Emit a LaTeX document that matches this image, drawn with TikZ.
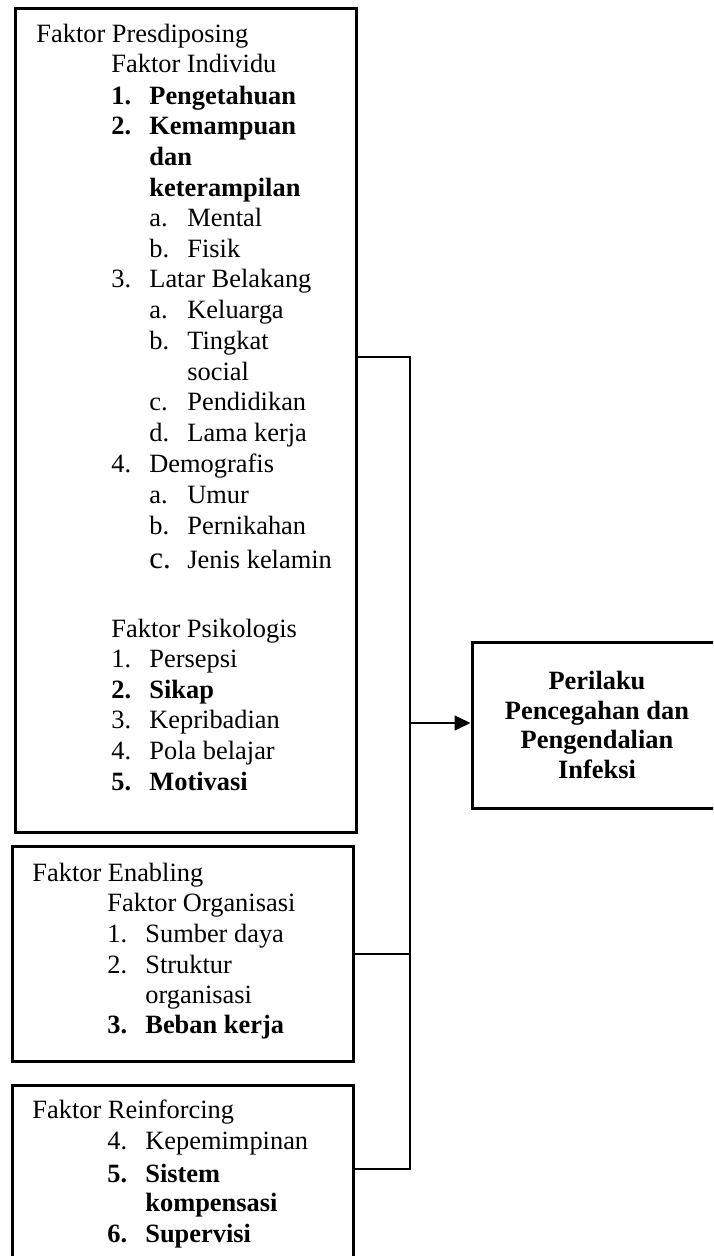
\documentclass[tikz,border=0pt]{standalone}
\usepackage{fontspec}
\setmainfont{Liberation Serif}
\usetikzlibrary{arrows.meta,positioning}
\newcommand{\nr}[1]{\makebox[19pt][l]{#1}}

\begin{document}
\begin{tikzpicture}[x=0.5pt,y=-0.5pt,>={Triangle[length=8pt,width=7.5pt]},
  kotak/.style={draw,line width=1.5pt,inner sep=0pt,anchor=north west},
  baris/.style={anchor=base west,inner sep=0pt,font=\fontsize{13.2}{15.3}\selectfont},
  garis/.style={line width=1.25pt}]
  \useasboundingbox (0,0) rectangle (713,1256);
  \clip (0,0) rectangle (713,1256);

  % Tiga kotak faktor di kiri dan kotak perilaku di kanan.
  \node[kotak,minimum width=170.5pt,minimum height=412pt] (presd) at (14,7) {};
  \node[kotak,minimum width=170.5pt,minimum height=107.5pt] (enabl) at (11,845) {};
  \node[kotak,minimum width=170.5pt,minimum height=108pt] (reinf) at (11,1084) {};
  \node[kotak,anchor=center,minimum width=125pt,minimum height=83pt,align=center,
    font=\bfseries\fontsize{13.2}{14.7}\selectfont] (perilaku) at (597,725)
    {Perilaku\\Pencegahan dan\\Pengendalian\\Infeksi};

  % Isi kotak faktor, baris demi baris.
  \foreach \x/\y/\t in {36/43/Faktor Presdiposing, 111/73/Faktor Individu,
      111/105/{\bfseries\nr{1.}Pengetahuan}, 111/135/{\bfseries\nr{2.}Kemampuan},
      149/166/{\bfseries dan}, 149/197/{\bfseries keterampilan},
      149/227/{\nr{a.}Mental}, 149/258/{\nr{b.}Fisik},
      111/288/{\nr{3.}Latar Belakang}, 149/319/{\nr{a.}Keluarga},
      149/350/{\nr{b.}Tingkat}, 187/381/social,
      149/410/{\nr{c.}Pendidikan}, 149/442/{\nr{d.}Lama kerja},
      111/473/{\nr{4.}Demografis}, 149/503/{\nr{a.}Umur},
      149/534/{\nr{b.}Pernikahan}, 149/568/{\nr{\fontsize{15.5}{15}\selectfont c.}Jenis kelamin},
      111/637/Faktor Psikologis, 111/667/{\nr{1.}Persepsi},
      111/698/{\bfseries\nr{2.}Sikap}, 111/728/{\nr{3.}Kepribadian},
      111/759/{\nr{4.}Pola belajar}, 111/790/{\bfseries\nr{5.}Motivasi},
      32/881/Faktor Enabling, 107/911/Faktor Organisasi,
      107/942/{\nr{1.}Sumber daya}, 107/973/{\nr{2.}Struktur},
      145/1003/organisasi, 107/1033/{\bfseries\nr{3.}Beban kerja},
      32/1118/Faktor Reinforcing, 107/1149/{\nr{4.}Kepemimpinan},
      107/1182/{\bfseries\nr{5.}Sistem}, 145/1211/{\bfseries kompensasi},
      107/1242/{\bfseries\nr{6.}Supervisi}}
    \node[baris] (b\y) at (\x,\y) {\t};

  % Garis penghubung menuju satu garis tegak, lalu panah ke kotak perilaku.
  \coordinate (j1) at (410,357);
  \coordinate (j2) at (410,954);
  \coordinate (j3) at (410,1169);
  \coordinate (ja) at (410,723);
  \draw[garis] (j1 -| presd.east) -- (j1) -- (j3) -- (j3 -| reinf.east);
  \draw[garis] (j2 -| enabl.east) -- (j2);
  \draw[->,line width=0.6pt] (ja) -- (ja -| perilaku.west);
\end{tikzpicture}
\end{document}
